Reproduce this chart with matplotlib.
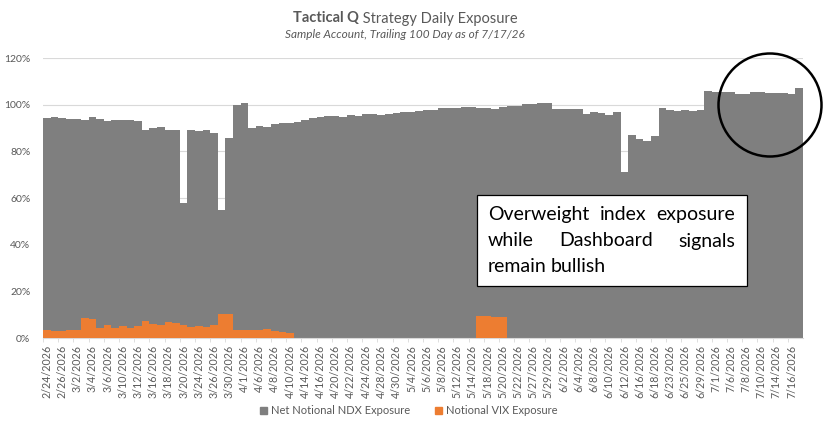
import numpy as np
import pandas as pd
import matplotlib
matplotlib.use("Agg")
from matplotlib import pyplot as plt
from matplotlib.patches import Ellipse, Rectangle, Patch

plt.rcParams['font.family'] = ['Lato', 'DejaVu Sans']

#---------------------------------------------------------------------------
# 100 trading days, 2/24/2026 .. 7/17/2026
holidays = ['2026-04-03', '2026-05-25', '2026-06-19', '2026-07-03']
days = pd.bdate_range('2026-02-24', '2026-07-17', freq='C', holidays=holidays)
date_labels = ['{}/{}/{}'.format(d.month, d.day, d.year) for d in days]

# percent of account
ndx_exposure = [
    94.4, 94.8, 94.4, 94.0, 94.0, 93.5, 94.8, 94.0, 92.9, 93.5,
    93.5, 93.5, 92.9, 89.2, 90.0, 90.4, 89.3, 89.3, 58.0, 89.3,
    88.8, 89.2, 87.9, 54.7, 85.9, 99.8, 100.9, 90.0, 90.8, 90.3,
    91.8, 92.2, 92.3, 92.6, 93.5, 94.3, 94.8, 95.2, 95.2, 94.8,
    95.5, 95.2, 95.9, 95.9, 95.6, 95.9, 96.5, 96.9, 96.9, 97.2,
    97.8, 97.8, 98.6, 98.6, 98.6, 99.1, 99.1, 98.6, 98.6, 98.1,
    99.0, 99.6, 99.6, 100.3, 100.3, 100.9, 100.9, 98.1, 98.1, 98.1,
    98.1, 95.8, 96.7, 96.3, 95.6, 96.7, 71.3, 87.1, 85.2, 84.5,
    86.7, 98.6, 97.6, 97.3, 97.6, 97.3, 97.9, 105.9, 105.6, 105.4,
    105.3, 104.7, 104.7, 105.4, 105.4, 104.9, 105.1, 105.1, 104.4, 107.0,
]
vix_exposure = [
    3.6, 3.2, 3.2, 3.6, 3.6, 8.7, 8.0, 4.4, 5.7, 4.4,
    5.0, 4.4, 5.2, 7.2, 6.2, 5.7, 6.7, 6.4, 5.7, 4.7,
    5.0, 4.7, 5.4, 10.3, 10.2, 3.6, 3.6, 3.3, 3.3, 3.7,
    3.0, 2.6, 2.3, 0, 0, 0, 0, 0, 0, 0,
    0, 0, 0, 0, 0, 0, 0, 0, 0, 0,
    0, 0, 0, 0, 0, 0, 0, 9.6, 9.3, 9.1,
    8.8, 0, 0, 0, 0, 0, 0, 0, 0, 0,
    0, 0, 0, 0, 0, 0, 0, 0, 0, 0,
    0, 0, 0, 0, 0, 0, 0, 0, 0, 0,
    0, 0, 0, 0, 0, 0, 0, 0, 0, 0,
]

GREY = '#7f7f7f'
ORANGE = '#ed7d31'
TXT = '#595959'
W, H = 833, 432

def fx(px):
    return px / W

def fy(py):
    return 1 - py / H

#---------------------------------------------------------------------------
fig = plt.figure(figsize=(W / 100, H / 100), dpi=100)
ax = fig.add_axes([fx(43), fy(338), fx(760), 280 / H])

x = np.arange(len(date_labels))
ndx = np.array(ndx_exposure) / 100
vix = np.array(vix_exposure) / 100
ax.bar(x, ndx, width=1.0, color=GREY, zorder=2)
ax.bar(x, vix, width=1.0, color=ORANGE, zorder=3)

ax.set_xlim(-0.5, len(x) - 0.5)
ax.set_ylim(0, 1.2)
ax.set_yticks(np.arange(0, 1.21, 0.2))
ax.set_yticklabels(['{:.0f}%'.format(v * 100) for v in np.arange(0, 1.21, 0.2)])
ax.grid(axis='y', color='#d9d9d9', linewidth=0.8, zorder=0)
ax.tick_params(axis='y', length=0, pad=9, labelsize=7.5, labelcolor=TXT)

ax.set_xticks(x[::2])
ax.set_xticklabels(date_labels[::2], rotation=90)
ax.set_xticks(x[::2] - 0.5, minor=True)
ax.tick_params(axis='x', which='major', length=0, pad=5, labelsize=7.7, labelcolor=TXT)
ax.tick_params(axis='x', which='minor', length=3, color='#d9d9d9')

for s in ['top', 'right', 'left']:
    ax.spines[s].set_visible(False)
ax.spines['bottom'].set_color('#d9d9d9')

# title: bold lead-in + regular rest, centred together
renderer = fig.canvas.get_renderer()
t1 = fig.text(0, fy(22.5), 'Tactical Q', fontsize=10.5, fontweight='bold', color=TXT, va='baseline')
t2 = fig.text(0, fy(22.5), ' Strategy Daily Exposure', fontsize=10.5, color=TXT, va='baseline')
w1 = t1.get_window_extent(renderer).width
w2 = t2.get_window_extent(renderer).width
start = 405 - (w1 + w2) / 2
t1.set_x(fx(start))
t2.set_x(fx(start + w1))
fig.text(fx(405), fy(37.5), 'Sample Account, Trailing 100 Day as of 7/17/26',
         fontsize=8.5, style='italic', color=TXT, ha='center', va='baseline')

# legend
handles = [Patch(color=GREY, label='Net Notional NDX Exposure'),
           Patch(color=ORANGE, label='Notional VIX Exposure')]
fig.legend(handles=handles, loc='center', bbox_to_anchor=(fx(409), fy(411)), ncol=2,
           frameon=False, fontsize=8, labelcolor=TXT, handlelength=0.6, handleheight=0.6,
           handletextpad=0.4, columnspacing=2.2)

# annotation box with justified text
fig.add_artist(Rectangle((fx(477), fy(286)), fx(270), 91 / H, transform=fig.transFigure,
                         facecolor='white', edgecolor='black', linewidth=0.9, zorder=5))

def justify(words, x0, x1, y, size, stretch=True):
    texts = [fig.text(0, fy(y), w, fontsize=size, color='black', va='baseline', zorder=6)
             for w in words]
    widths = [t.get_window_extent(renderer).width for t in texts]
    if stretch and len(words) > 1:
        gap = (x1 - x0 - sum(widths)) / (len(words) - 1)
    else:
        gap = texts[0].get_window_extent(renderer).height * 0.22
    pos = x0
    for t, w in zip(texts, widths):
        t.set_x(fx(pos))
        pos += w + gap

justify(['Overweight', 'index', 'exposure'], 488, 735, 220.5, 14)
justify(['while', 'Dashboard', 'signals'], 488, 735, 246.5, 14)
justify(['remain', 'bullish'], 488, 735, 271.5, 14, stretch=False)

# circle around the last few weeks
fig.add_artist(Ellipse((fx(770), fy(105)), fx(103), 103 / H, transform=fig.transFigure,
                       facecolor='none', edgecolor='black', linewidth=1.8, zorder=5))

fig.savefig('out.png', dpi=100)
